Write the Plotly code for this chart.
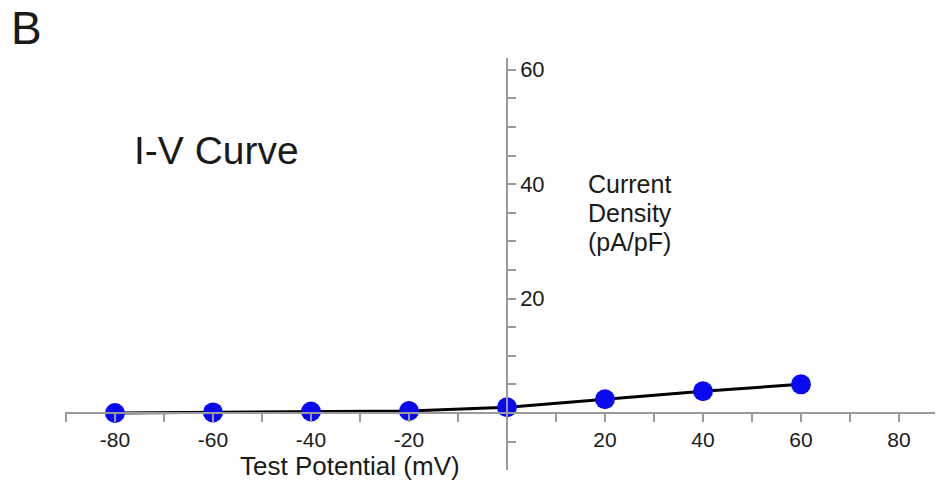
import plotly.graph_objects as go

# Data
test_potential = [-80, -60, -40, -20, 0, 20, 40, 60]
current_density = [0.0, 0.1, 0.25, 0.35, 1.0, 2.4, 3.8, 5.0]

x_tick_vals = [-90, -80, -70, -60, -50, -40, -30, -20, -10, 10, 20, 30, 40, 50, 60, 70, 80]
x_tick_text = ["", "-80", "", "-60", "", "-40", "", "-20", "", "", "20", "", "40", "", "60", "", "80"]
y_tick_vals = [-10, -5, 5, 10, 15, 20, 25, 30, 35, 40, 45, 50, 55, 60]
y_tick_text = ["", "", "", "", "", "20", "", "", "", "40", "", "", "", "60"]

W, H = 942, 481
L, R, T, B = 65, 7, 58, 11
x_range = [-90.2, 87.35]
y_range = [-9.97, 62.06]

x_pos = (0 - y_range[0]) / (y_range[1] - y_range[0])
y_pos = (0 - x_range[0]) / (x_range[1] - x_range[0])

FONT = "Liberation Sans, Arial, Helvetica, sans-serif"
TXT = "#1a1a1a"
AX = "#9a9a9a"

fig = go.Figure()
fig.add_trace(go.Scatter(
    x=test_potential, y=current_density,
    mode="lines+markers",
    line=dict(color="black", width=3),
    marker=dict(color="#0a0af0", size=20, line=dict(width=0)),
    showlegend=False, cliponaxis=False,
))

fig.update_layout(
    width=W, height=H,
    margin=dict(l=L, r=R, t=T, b=B),
    paper_bgcolor="white", plot_bgcolor="white",
    font=dict(family=FONT, color=TXT),
    xaxis=dict(
        range=x_range, anchor="free", position=x_pos,
        showgrid=False, zeroline=False,
        showline=True, linecolor=AX, linewidth=1.5,
        ticks="outside", ticklen=8, tickcolor=AX, tickwidth=1.5,
        tickmode="array", tickvals=x_tick_vals, ticktext=x_tick_text,
        tickfont=dict(size=21, color=TXT),
    ),
    yaxis=dict(
        range=y_range, anchor="free", position=y_pos, side="right",
        showgrid=False, zeroline=False,
        showline=True, linecolor=AX, linewidth=1.5,
        ticks="outside", ticklen=8, tickcolor=AX, tickwidth=1.5,
        tickmode="array", tickvals=y_tick_vals, ticktext=y_tick_text,
        tickfont=dict(size=22, color=TXT),
    ),
)

def px_to_paper(px, py):
    return (px - L) / (W - L - R), (H - B - py) / (H - T - B)

annos = [
    ("B", 26, 28, 46, "center"),
    ("I-V Curve", 216, 150, 39, "center"),
    ("Current", 587, 184, 25, "left"),
    ("Density", 587, 213, 25, "left"),
    ("(pA/pF)", 587, 242, 25, "left"),
    ("Test Potential (mV)", 350, 466, 26, "center"),
]
for text, px, py, size, xa in annos:
    xp, yp = px_to_paper(px, py)
    fig.add_annotation(
        x=xp, y=yp, xref="paper", yref="paper", text=text, showarrow=False,
        xanchor=xa, yanchor="middle", borderpad=0,
        font=dict(size=size, color=TXT, family=FONT),
    )

fig.write_html("out.html")
